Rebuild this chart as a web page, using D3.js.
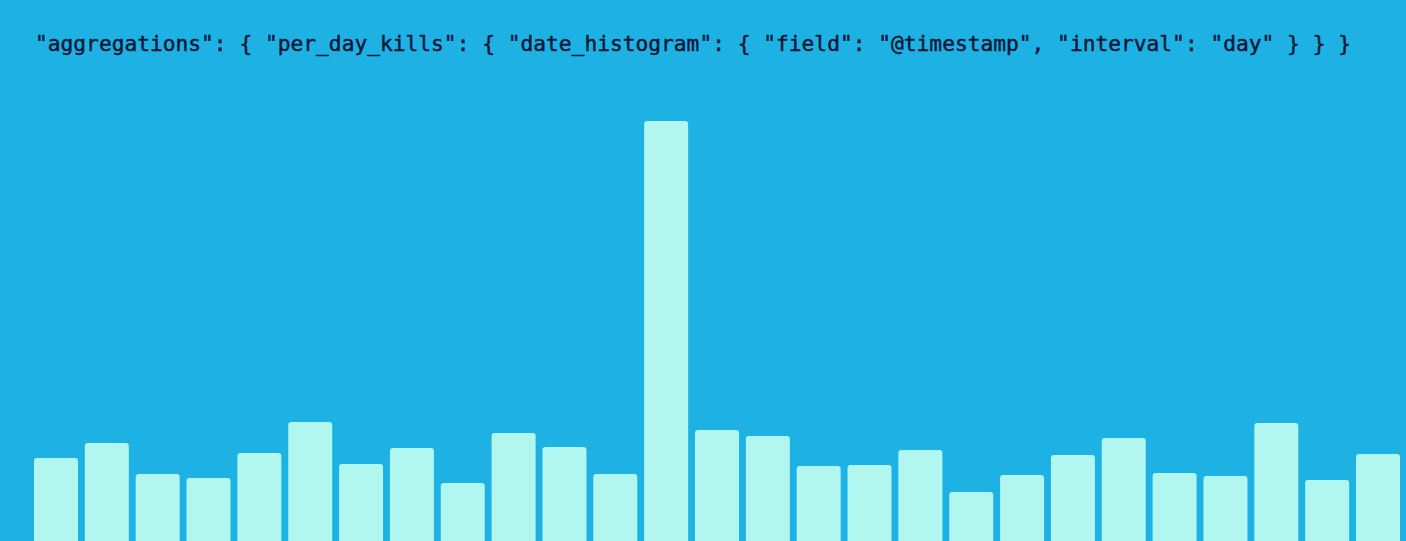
<!DOCTYPE html>
<html>
<head>
<meta charset="utf-8">
<script src="https://cdn.jsdelivr.net/npm/d3@7"></script>
<style>
  html, body { margin: 0; padding: 0; background: #1EB2E4; overflow: hidden; }
  svg { display: block; }
</style>
</head>
<body>
<svg id="chart" width="1406" height="541"></svg>
<script>
// Data: daily kill counts
const days = d3.range(1, 28).map(d => "Day " + d);
const kills = [83, 98, 67, 63, 88, 119, 77, 93, 58, 108, 94, 67, 420, 111, 105, 75, 76, 91, 49, 66, 86, 103, 68, 65, 118, 61, 87];
const titleText = '"aggregations": { "per_day_kills": { "date_histogram": { "field": "@timestamp", "interval": "day" } } }';

const W = 1406, H = 541;
const svg = d3.select("#chart");

svg.append("rect").attr("width", W).attr("height", H).attr("fill", "#1EB2E4");

const x = d3.scaleBand().domain(days).range([34, 1400]).paddingInner(0.135).paddingOuter(0);
const y = d3.scaleLinear().domain([0, 420]).range([H, 121]);

const r = 3;
svg.append("g").selectAll("path").data(kills).join("path")
  .attr("fill", "#B2F7EF")
  .attr("d", (d, i) => {
    const x0 = x(days[i]), w = x.bandwidth(), top = y(d), bot = H + 10;
    return `M${x0},${bot}V${top + r}Q${x0},${top} ${x0 + r},${top}H${x0 + w - r}Q${x0 + w},${top} ${x0 + w},${top + r}V${bot}Z`;
  });

svg.append("text")
  .attr("x", 35).attr("y", 50.5)
  .attr("fill", "#0A1838")
  .attr("stroke", "#0A1838")
  .attr("stroke-width", 0.45)
  .attr("font-family", "'DejaVu Sans Mono', 'Liberation Mono', monospace")
  .attr("font-size", 21)
  .attr("textLength", 1316)
  .attr("lengthAdjust", "spacingAndGlyphs")
  .attr("xml:space", "preserve")
  .style("white-space", "pre")
  .text(titleText);
</script>
</body>
</html>
